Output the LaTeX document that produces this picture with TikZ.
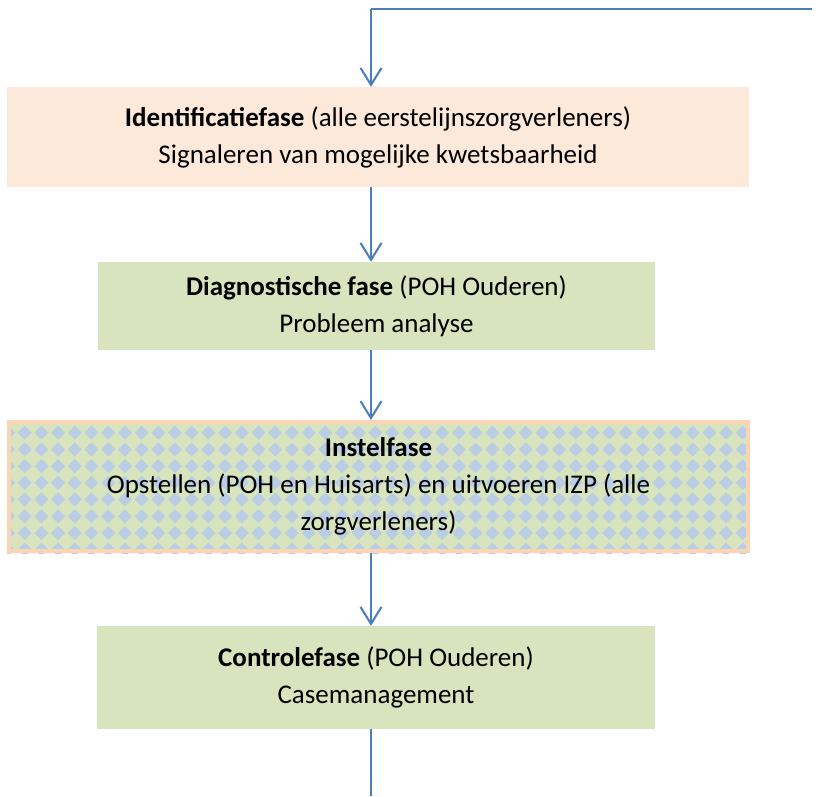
\documentclass[tikz,border=0pt]{standalone}
\usepackage{fontspec}
\setmainfont{Carlito}
\usetikzlibrary{arrows.meta,backgrounds}
\definecolor{peach}{HTML}{FCE9DA}
\definecolor{sage}{HTML}{D7E4BD}
\definecolor{diamondblue}{HTML}{B9CDE5}
\definecolor{rim}{HTML}{FBD4B4}
\definecolor{flowblue}{HTML}{4A7EBB}
\begin{document}
\begin{tikzpicture}[x=1pt,y=-1pt,
  phase/.style={align=center,font=\fontsize{27}{37}\selectfont,inner sep=0pt},
  flow/.style={draw=flowblue,line width=2pt,-{Straight Barb[length=17pt,width=21pt]}}]
\useasboundingbox (0,0) rectangle (824,796);

\node [phase,fill=peach,minimum width=742,minimum height=100] (ident) at (378,137)
  {\textbf{Identificatiefase} (alle eerstelijnszorgverleners)\\Signaleren van mogelijke kwetsbaarheid};
\node [phase,fill=sage,minimum width=557,minimum height=88] (diag) at (376.5,306)
  {\textbf{Diagnostische fase} (POH Ouderen)\\Probleem analyse};
\node [phase,draw=rim,line width=4pt,minimum width=739,minimum height=129] (instel) at (378.5,486.5)
  {\textbf{Instelfase}\\Opstellen (POH en Huisarts) en uitvoeren IZP (alle\\zorgverleners)};
\node [phase,fill=sage,minimum width=558,minimum height=103] (ctrl) at (376,677.5)
  {\textbf{Controlefase} (POH Ouderen)\\Casemanagement};

% diamond pattern behind the Instelfase box
\begin{scope}[on background layer]
  \fill [sage] (instel.north west) rectangle (instel.south east);
  \clip (instel.north west) rectangle (instel.south east);
  \foreach \j in {0,...,8}
    \foreach \i in {0,...,45}
      \fill [diamondblue] (\i*16.7+8,\j*16.7+416) +(-7,0) -- +(0,-7) -- +(7,0) -- +(0,7) -- cycle;
\end{scope}

\coordinate (back) at (812,9);
\coordinate (turn) at (371,9);
\coordinate (exit) at (371,796);

\draw [draw=flowblue,line width=2pt] (back) -- (turn);
\draw [flow] (turn) -- (turn |- ident.north);
\draw [flow] (turn |- ident.south) -- (turn |- diag.north);
\draw [flow] (turn |- diag.south) -- (turn |- instel.north);
\draw [flow] (turn |- instel.south) -- (turn |- ctrl.north);
\draw [draw=flowblue,line width=2pt] (turn |- ctrl.south) -- (exit);
\end{tikzpicture}
\end{document}
